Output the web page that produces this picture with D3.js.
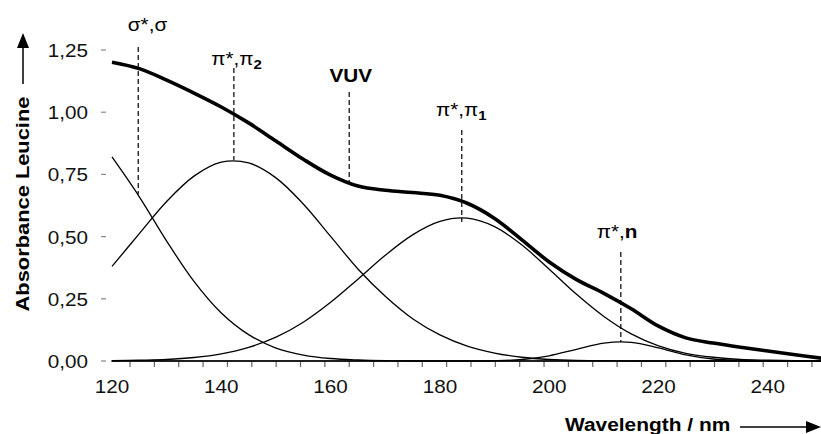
<!DOCTYPE html>
<html><head><meta charset="utf-8">
<script src="https://cdn.jsdelivr.net/npm/d3@7"></script>
<style>
body{margin:0;background:#fff;}
svg{display:block;font-family:"Liberation Sans",Arial,Helvetica,sans-serif;}
</style>
</head><body>
<svg id="chart" width="821" height="434"></svg>
<script>
// ---- data ----
const wavelength = [120,125,130,135,140,145,150,155,160,165,170,175,180,185,190,195,200,205,210,215,220,225,230,235,240,245,250];
const sigmaSigma = [0.820,0.660,0.482,0.320,0.193,0.106,0.052,0.024,0.010,0.004,0.001,0,0,0,0,0,0,0,0,0,0,0,0,0,0,0,0];
const piPi2      = [0.380,0.512,0.641,0.743,0.799,0.796,0.736,0.631,0.501,0.370,0.260,0.170,0.105,0.060,0.032,0.015,0.006,0.002,0.001,0,0,0,0,0,0,0,0];
const piPi1      = [0.001,0.003,0.006,0.014,0.029,0.055,0.096,0.156,0.236,0.329,0.425,0.507,0.561,0.574,0.540,0.466,0.369,0.268,0.179,0.109,0.061,0.031,0.015,0.006,0.003,0.001,0];
const piN        = [0,0,0,0,0,0,0,0,0,0,0,0,0,0,0.001,0.006,0.021,0.047,0.072,0.075,0.053,0.025,0.008,0.002,0,0,0];
const total      = [1.201,1.175,1.129,1.077,1.021,0.957,0.884,0.811,0.747,0.703,0.686,0.677,0.666,0.634,0.573,0.487,0.398,0.327,0.272,0.210,0.140,0.093,0.072,0.055,0.040,0.025,0.011];

const yTicks = [0,0.25,0.5,0.75,1,1.25];
const yTickLabels = ["0,00","0,25","0,50","0,75","1,00","1,25"];
const xTicks = [120,140,160,180,200,220,240];
const xTickLabels = ["120","140","160","180","200","220","240"];
const yTitle = "Absorbance Leucine";
const xTitle = "Wavelength / nm";

// annotation labels: segments [text, kind] kind: g = greek/symbol, b = bold latin, s = bold subscript
const annLabels = [
  [["σ","g"],["*","g"],[",","g"],["σ","g"]],
  [["π","g"],["*","g"],[",","g"],["π","g"],["2","s"]],
  [["VUV","b"]],
  [["π","g"],["*","g"],[",","g"],["π","g"],["1","s"]],
  [["π","g"],["*","g"],[",","g"],["n","b"]]
];
const annLabelX   = [126.5, 142.8, 163.7, 183.9, 212.4];
const annLabelY   = [1.326, 1.190, 1.121, 0.985, 0.494];
const annLineX    = [124.8, 142.3, 163.4, 184.0, 213.1];
const annLineTop  = [1.262, 1.178, 1.081, 0.928, 0.438];
const annLineBot  = [0.671, 0.808, 0.719, 0.559, 0.076];

// ---- drawing ----
const svg = d3.select("#chart");
const x = d3.scaleLinear().domain([120,250]).range([112,822.5]);
const y = d3.scaleLinear().domain([0,1.25]).range([361,50]);
const SX = 1.15;

// x axis line and minor ticks
svg.append("line").attr("x1", x(120)-1).attr("x2", 821).attr("y1", y(0)).attr("y2", y(0))
  .attr("stroke","#555").attr("stroke-width",1.4);
const minorTicks = d3.range(123.3, 250, 4.456);
svg.append("g").selectAll("line").data(minorTicks).join("line")
  .attr("x1", d=>x(d)).attr("x2", d=>x(d)).attr("y1", y(0)).attr("y2", y(0)+6)
  .attr("stroke","#666").attr("stroke-width",1.2);

// x tick labels
svg.append("g").selectAll("text").data(xTicks).join("text")
  .attr("transform", d=>`translate(${x(d)},${y(0)+32}) scale(${SX},1)`)
  .attr("text-anchor","middle").attr("font-size",18).attr("fill","#111")
  .text((d,i)=>xTickLabels[i]);

// y ticks and labels
svg.append("g").selectAll("line").data(yTicks).join("line")
  .attr("x1",101).attr("x2",106).attr("y1",d=>y(d)).attr("y2",d=>y(d))
  .attr("stroke","#888").attr("stroke-width",1.2);
svg.append("g").selectAll("text").data(yTicks).join("text")
  .attr("transform", d=>`translate(88,${y(d)+7}) scale(${SX},1)`)
  .attr("text-anchor","end").attr("font-size",18).attr("fill","#111")
  .text((d,i)=>yTickLabels[i]);

// curves
const line = d3.line().x((d,i)=>x(wavelength[i])).y(d=>y(d)).curve(d3.curveCatmullRom.alpha(0.5));
[sigmaSigma, piPi2, piPi1, piN].forEach(s=>{
  svg.append("path").attr("d", line(s)).attr("fill","none").attr("stroke","#000").attr("stroke-width",1.3);
});
svg.append("path").attr("d", line(total)).attr("fill","none").attr("stroke","#000").attr("stroke-width",3.6)
  .attr("stroke-linejoin","round");

// annotations
annLabels.forEach((parts,i)=>{
  svg.append("line").attr("x1",x(annLineX[i])).attr("x2",x(annLineX[i]))
    .attr("y1",y(annLineTop[i])).attr("y2",y(annLineBot[i]))
    .attr("stroke","#000").attr("stroke-width",1.2).attr("stroke-dasharray","5,3");
  const t = svg.append("text")
    .attr("transform",`translate(${x(annLabelX[i])},${y(annLabelY[i])}) scale(${SX},1)`)
    .attr("text-anchor","middle").attr("font-size",18).attr("fill","#000");
  parts.forEach(([txt,kind])=>{
    const ts = t.append("tspan").text(txt);
    if (kind==="g") ts.attr("font-weight","normal");
    if (kind==="b") ts.attr("font-weight","bold");
    if (kind==="s") ts.attr("font-weight","bold").attr("font-size",13).attr("dy",4);
  });
});

// y title with arrow
svg.append("text").attr("transform",`translate(29,204) rotate(-90) scale(${SX},1)`)
  .attr("text-anchor","middle").attr("font-size",19).attr("font-weight","bold").attr("fill","#000")
  .text(yTitle);
svg.append("line").attr("x1",23).attr("x2",23).attr("y1",84).attr("y2",46).attr("stroke","#000").attr("stroke-width",1.5);
svg.append("path").attr("d","M23,33 L29,48 L17,48 Z").attr("fill","#000");

// x title with arrow
svg.append("text").attr("transform",`translate(565,431) scale(1.1,1)`)
  .attr("text-anchor","start").attr("font-size",19).attr("font-weight","bold").attr("fill","#000")
  .text(xTitle);
svg.append("line").attr("x1",740).attr("x2",808).attr("y1",427).attr("y2",427).attr("stroke","#000").attr("stroke-width",1.5);
svg.append("path").attr("d","M821,427 L806,421 L806,433 Z").attr("fill","#000");
</script>
</body></html>
